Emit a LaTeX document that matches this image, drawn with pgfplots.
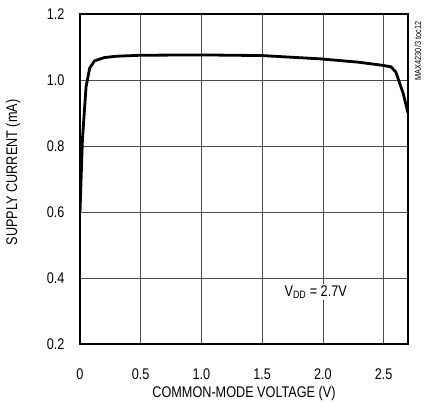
\documentclass[border=0pt]{standalone}
\usepackage{fontspec}
\setmainfont{Liberation Sans}[FakeStretch=0.82]
\usepackage{pgfplots}
\pgfplotsset{compat=1.18}
\begin{document}
\begin{tikzpicture}
\begin{axis}[
  name=ax,
  scale only axis,
  width=328bp, height=330bp,
  xmin=0, xmax=2.7, ymin=0.2, ymax=1.2,
  xtick={0,0.5,1.0,1.5,2.0,2.5},
  xticklabels={0,0.5,1.0,1.5,2.0,2.5},
  ytick={0.2,0.4,0.6,0.8,1.0,1.2},
  yticklabels={0.2,0.4,0.6,0.8,1.0,1.2},
  major tick length=0pt,
  grid=major,
  major grid style={draw=black!70, line width=0.8bp},
  axis line style={line width=2.6bp},
  tick label style={font=\fontsize{15.5}{16}\selectfont},
  xticklabel style={yshift=-21bp},
  yticklabel style={xshift=-12bp},
  xlabel={COMMON-MODE VOLTAGE (V)},
  ylabel={SUPPLY CURRENT (mA)},
  label style={font=\fontsize{15.5}{16}\selectfont},
  xlabel style={at={(axis description cs:0.5,-0.151)}, anchor=center},
  ylabel style={at={(axis description cs:-0.204,0.52)}, anchor=center},
  clip=true,
]
\addplot[black, line width=2.8bp, line join=round] coordinates {
(0,0.60) (0.02,0.82) (0.05,0.98) (0.08,1.036) (0.12,1.058) (0.2,1.068)
(0.3,1.072) (0.5,1.075) (1.0,1.076) (1.5,1.074) (1.98,1.064) (2.29,1.054)
(2.48,1.045) (2.56,1.040) (2.60,1.024) (2.66,0.96) (2.7,0.90)
};
\node[fill=white, inner sep=1.5bp, font=\fontsize{15.5}{16}\selectfont] at (axis cs:1.94,0.357) {V\textsubscript{DD} = 2.7V};
\end{axis}
\node[rotate=90, anchor=center, font=\fontsize{9}{10}\selectfont] at ([xshift=10bp,yshift=-37bp]ax.north east) {MAX4230/3 toc12};
\path ([xshift=-80bp,yshift=-58bp]ax.south west) rectangle ([xshift=345bp,yshift=344bp]ax.south west);
\end{tikzpicture}
\end{document}
